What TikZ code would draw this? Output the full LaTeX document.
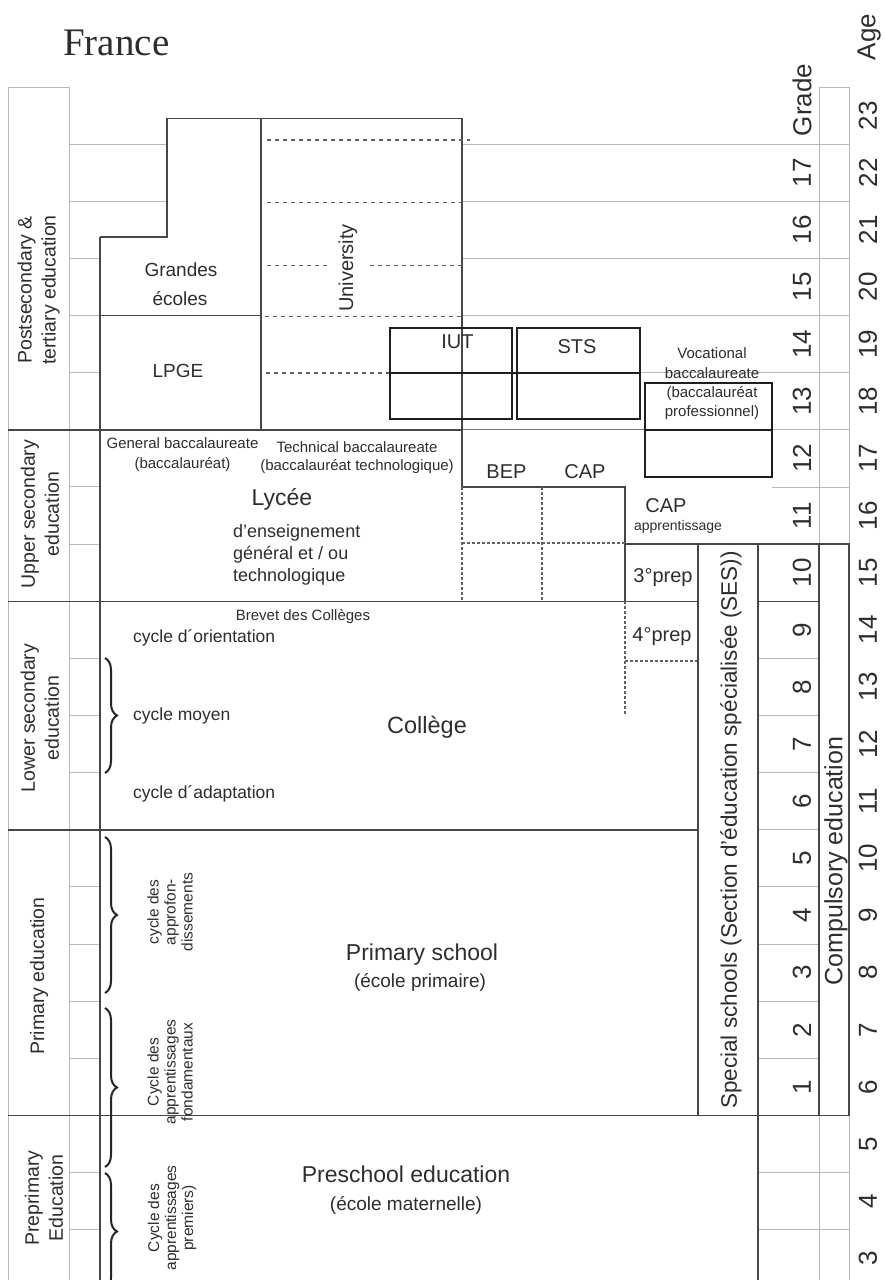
\documentclass[tikz,border=0pt]{standalone}
\usepackage{fontspec}
\setmainfont{Liberation Sans}
\newfontfamily\serifFR{Liberation Serif}
\usetikzlibrary{decorations.pathreplacing}
\newcommand{\fz}[2]{\fontsize{#1}{#2}\selectfont}
\begin{document}
\begin{tikzpicture}[x=1pt,y=-1pt,
  gline/.style={draw=black!28, line width=1pt},
  dline/.style={draw=black!72, line width=1.6pt},
  bline/.style={draw=black!88, line width=2.4pt},
  dashl/.style={draw=black!62, line width=1.4pt, dash pattern=on 4pt off 4pt},
  dotl/.style={draw=black!62, line width=1.2pt, dash pattern=on 2.5pt off 2.5pt},
  lbl/.style={text=black!82, inner sep=0pt},
  bracel/.style={draw=black!85, line width=2pt, decorate, decoration={brace, amplitude=12pt}}]
\useasboundingbox (0,0) rectangle (884,1280);
\fill[white] (0,0) rectangle (884,1280);
\clip (0,0) rectangle (884,1280);

% ---------- grey grid ----------
\foreach \k in {1,...,20}{
  \pgfmathsetmacro\yy{87+57.14*\k}
  \draw[gline] (69,\yy) -- (100,\yy);
}
\draw[gline] (69,144.1) -- (167,144.1);
\draw[gline] (69,201.3) -- (167,201.3);
\foreach \k in {1,...,4}{
  \pgfmathsetmacro\yy{87+57.14*\k}
  \draw[gline] (462,\yy) -- (849,\yy);
}
\draw[gline] (640,372.7) -- (849,372.7);
\draw[gline] (772,429.8) -- (849,429.8);
\draw[gline] (772,487) -- (849,487);
\foreach \k in {10,...,17}{
  \pgfmathsetmacro\yy{87+57.14*\k}
  \draw[gline] (758,\yy) -- (819,\yy);
}
\draw[gline] (758,1172.7) -- (849,1172.7);
\draw[gline] (758,1229.8) -- (849,1229.8);
% level column and compulsory column
\draw[gline] (8,1290) -- (8,87) -- (69,87) -- (69,1290);
\draw[gline] (819,1290) -- (819,87) -- (849,87) -- (849,1290);

% ---------- dark structure ----------
\draw[dline] (100,236.7) -- (100,1290);
\draw[dline] (758,1115.5) -- (758,1290);
\draw[dline] (8,429.8) -- (462,429.8);
\draw[draw=black!55, line width=1.3pt] (462,429.8) -- (645,429.8);
\draw[dline] (8,601.3) -- (698,601.3);
\draw[dline] (8,829.8) -- (698,829.8);
\draw[dline] (8,1115.5) -- (849,1115.5);
\draw[dline] (758,544.1) -- (849,544.1);
\draw[dline] (758,601.3) -- (819,601.3);

% Grandes ecoles / LPGE / University
\draw[dline] (100,236.7) -- (167,236.7) -- (167,118.5) -- (261,118.5) -- (261,429.8);
\draw[dline] (100,315.6) -- (261,315.6);
\draw[dline] (261,118.5) -- (462,118.5) -- (462,487);
\draw[dashl] (267,140) -- (470,140);
\draw[dashl] (267,202.7) -- (462,202.7);
\draw[dashl] (267,265.7) -- (330,265.7);
\draw[dashl] (370,265.7) -- (462,265.7);
\draw[dashl] (265,316.5) -- (462,316.5);
\draw[dashl] (266,373) -- (390,373);

% IUT / STS / vocational boxes
\draw[bline] (390,328) rectangle (511.7,419);
\draw[bline] (517,328) rectangle (640,419);
\draw[bline] (390,373) -- (640,373);
\draw[bline] (645,383) rectangle (772,477);
\draw[bline] (645,429.8) -- (772,429.8);

% BEP / CAP / prep area
\draw[dline] (462,487) -- (625,487) -- (625,601.3);
\draw[dline] (625,544.1) -- (698,544.1);
\draw[dotl] (462,487) -- (462,601.3);
\draw[dotl] (542,487) -- (542,601.3);
\draw[dotl] (462,543) -- (625,543);
\draw[dotl] (625,601.3) -- (625,715);
\draw[dotl] (625,661) -- (698,661);

% SES and compulsory boxes
\draw[dline] (698,544.1) rectangle (758,1115.5);
\draw[dline] (819,544.1) rectangle (849,1115.5);

% braces
\draw[bracel] (105,658) -- (105,773);
\draw[bracel] (105,837) -- (105,993);
\draw[bracel] (105,1008) -- (105,1167);
\draw[bracel] (105,1173) -- (105,1290);

% ---------- texts ----------
\node[lbl,anchor=base west,font=\serifFR\fz{39}{39}] (france) at (63,55) {France};
\node[lbl,rotate=90,font=\fz{26}{26}] (agehead) at (869,37) {Age};
\node[lbl,rotate=90,font=\fz{26}{26}] (gradehead) at (802,100) {Grade};
\foreach \a in {3,...,23}{
  \pgfmathsetmacro\yy{87+57.14*(23-\a)+28.57}
  \node[lbl,rotate=90,font=\fz{26}{26}] (age\a) at (868,\yy) {\a};
}
\foreach \g in {1,...,17}{
  \pgfmathsetmacro\yy{87+57.14*(18-\g)+28.57}
  \node[lbl,rotate=90,font=\fz{26}{26}] (grade\g) at (802,\yy) {\g};
}

% level labels
\node[lbl,rotate=90,align=center,font=\fz{19.5}{24}] (postsec) at (38.5,290) {Postsecondary \&\\tertiary education};
\node[lbl,rotate=90,align=center,font=\fz{19.5}{24}] (uppersec) at (40,514) {Upper secondary\\education};
\node[lbl,rotate=90,align=center,font=\fz{19.5}{24}] (lowersec) at (40,718) {Lower secondary\\education};
\node[lbl,rotate=90,font=\fz{19.5}{24}] (primary) at (39,976) {Primary education};
\node[lbl,rotate=90,align=center,font=\fz{19.5}{24}] (preprimary) at (44,1198) {Preprimary\\Education};

% postsecondary
\node[lbl,anchor=base,font=\fz{19}{19}] (grandes1) at (181,276) {Grandes};
\node[lbl,anchor=base,font=\fz{19}{19}] (grandes2) at (180,305) {écoles};
\node[lbl,anchor=base,font=\fz{19}{19}] (lpge) at (178,377) {LPGE};
\node[lbl,rotate=90,font=\fz{20}{20}] (univ) at (348,268) {University};
\node[lbl,anchor=base,font=\fz{20}{20}] (iut) at (457.5,348) {IUT};
\node[lbl,anchor=base,font=\fz{20}{20}] (sts) at (577,353) {STS};
\node[lbl,anchor=base,font=\fz{15}{15}] (voc1) at (712,358) {Vocational};
\node[lbl,anchor=base,font=\fz{15}{15}] (voc2) at (712,378) {baccalaureate};
\node[lbl,anchor=base,font=\fz{15}{15}] (voc3) at (712,397) {(baccalauréat};
\node[lbl,anchor=base,font=\fz{15}{15}] (voc4) at (712,416) {professionnel)};

% upper secondary
\node[lbl,anchor=base,font=\fz{15}{15}] (genbac1) at (182.5,448) {General baccalaureate};
\node[lbl,anchor=base,font=\fz{15}{15}] (genbac2) at (182.5,468) {(baccalauréat)};
\node[lbl,anchor=base,font=\fz{15}{15}] (techbac1) at (357,452) {Technical baccalaureate};
\node[lbl,anchor=base,font=\fz{15}{15}] (techbac2) at (357,470) {(baccalauréat technologique)};
\node[lbl,anchor=base,font=\fz{23}{23}] (lycee) at (282,505) {Lycée};
\node[lbl,anchor=base west,font=\fz{18}{18}] (lyc1) at (233,537) {d'enseignement};
\node[lbl,anchor=base west,font=\fz{18}{18}] (lyc2) at (233,559) {général et / ou};
\node[lbl,anchor=base west,font=\fz{18}{18}] (lyc3) at (233,581) {technologique};
\node[lbl,anchor=base,font=\fz{20}{20}] (bep) at (506.5,478) {BEP};
\node[lbl,anchor=base,font=\fz{20}{20}] (cap) at (585,478) {CAP};
\node[lbl,anchor=base,font=\fz{20}{20}] (capapp1) at (666,512) {CAP};
\node[lbl,anchor=base,font=\fz{14}{14}] (capapp2) at (678,530) {apprentissage};
\node[lbl,anchor=base,font=\fz{20}{20}] (prep3) at (663,582) {3°prep};

% lower secondary
\node[lbl,anchor=base,font=\fz{15}{15}] (brevet) at (303,620) {Brevet des Collèges};
\node[lbl,anchor=base,font=\fz{20}{20}] (prep4) at (662,641) {4°prep};
\node[lbl,anchor=base west,font=\fz{17.5}{17.5}] (cyor) at (133,642) {cycle d´orientation};
\node[lbl,anchor=base west,font=\fz{17.5}{17.5}] (cymo) at (133,720) {cycle moyen};
\node[lbl,anchor=base west,font=\fz{17.5}{17.5}] (cyad) at (133,798) {cycle d´adaptation};
\node[lbl,anchor=base,font=\fz{23.5}{23.5}] (college) at (427,733) {Collège};

% primary / preprimary
\node[lbl,rotate=90,align=center,font=\fz{15.5}{17}] (cyappro) at (170,912) {cycle des\\approfon-\\dissements};
\node[lbl,rotate=90,align=center,font=\fz{15.5}{17}] (cyfond) at (170,1072) {Cycle des\\apprentissages\\fondamentaux};
\node[lbl,rotate=90,align=center,font=\fz{15.5}{17}] (cyprem) at (172,1218) {Cycle des\\apprentissages\\premiers)};
\node[lbl,anchor=base,font=\fz{23}{23}] (prim1) at (422,960) {Primary school};
\node[lbl,anchor=base,font=\fz{19}{19}] (prim2) at (420,987) {(école primaire)};
\node[lbl,anchor=base,font=\fz{23}{23}] (pres1) at (406,1182) {Preschool education};
\node[lbl,anchor=base,font=\fz{19}{19}] (pres2) at (406,1210) {(école maternelle)};

% right columns
\node[lbl,rotate=90,font=\fz{22.5}{22.5}] (ses) at (731,830) {Special schools (Section d'éducation spécialisée (SES))};
\node[lbl,rotate=90,font=\fz{25}{25}] (compulsory) at (836,861) {Compulsory education};
\end{tikzpicture}
\end{document}
